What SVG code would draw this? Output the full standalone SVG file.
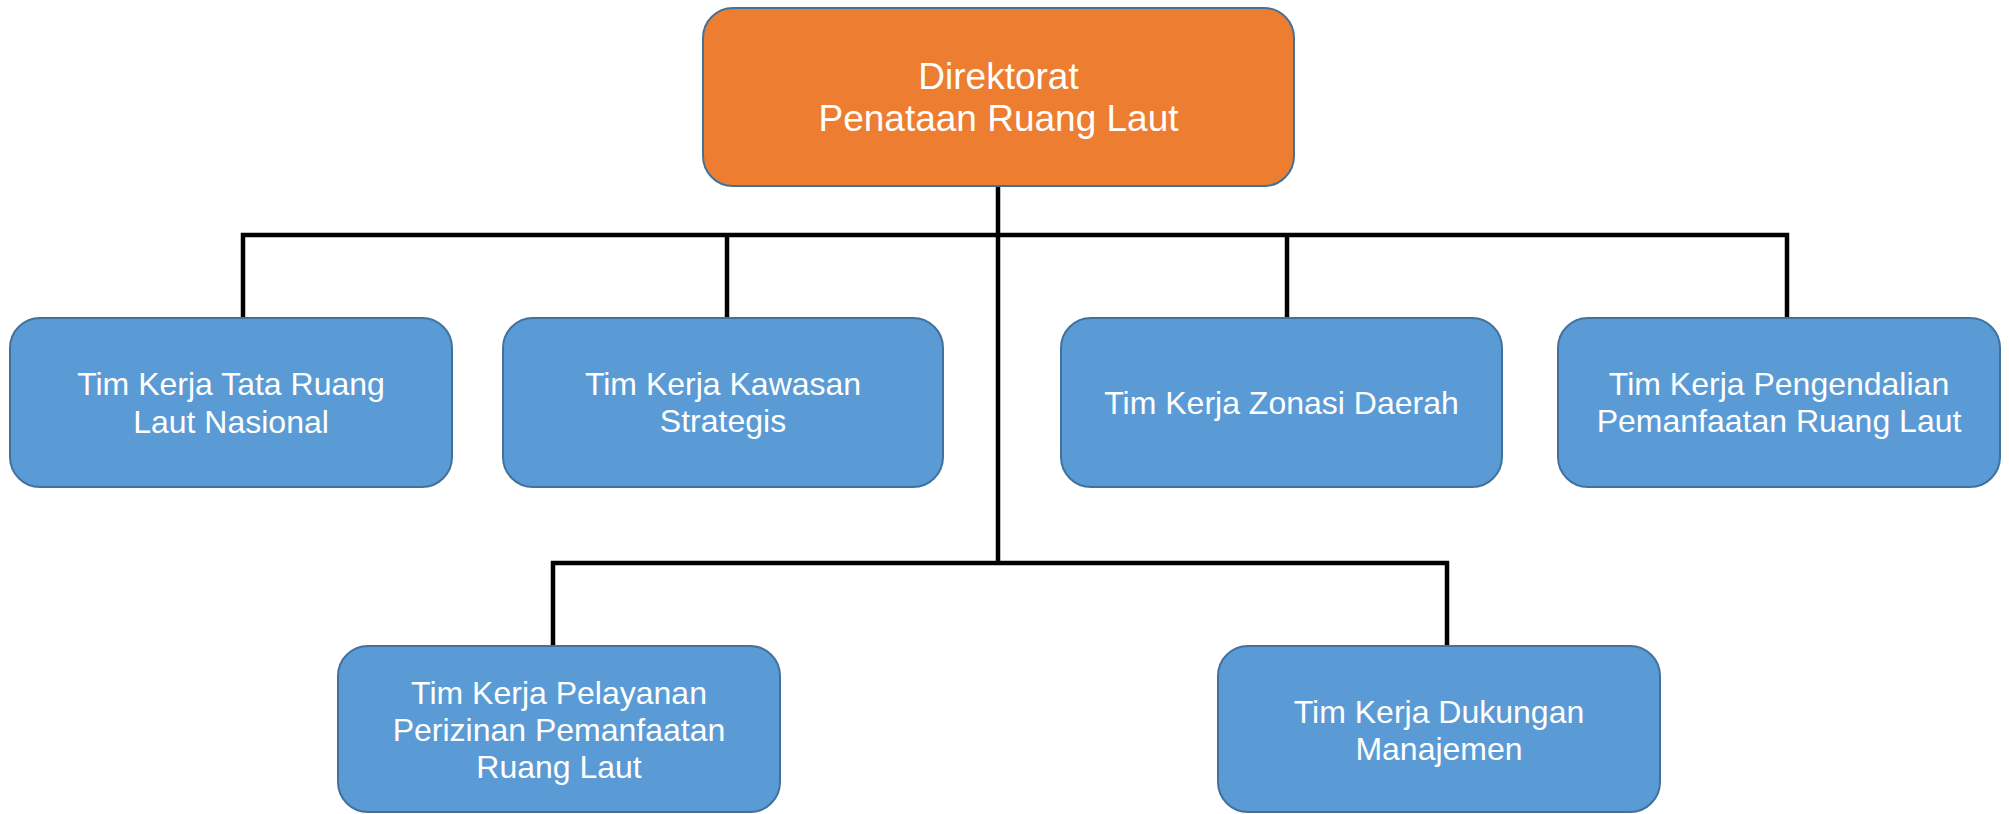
<svg xmlns="http://www.w3.org/2000/svg" width="2009" height="814" viewBox="0 0 2009 814">
<style>
.box{fill:#5B9BD5;stroke:#41719C;stroke-width:2}
.top{fill:#ED7D31;stroke:#41719C;stroke-width:2}
.t{font-family:"Liberation Sans",Arial,sans-serif;font-size:32px;fill:#fff;text-anchor:middle}
.tt{font-family:"Liberation Sans",Arial,sans-serif;font-size:37px;fill:#fff;text-anchor:middle}
.c{stroke:#000;stroke-width:4.5;fill:none}
</style>
<rect width="2009" height="814" fill="#fff"/>
<g id="connectors">
<line class="c" x1="998" y1="186" x2="998" y2="565"/>
<polyline class="c" points="243,318 243,235 1787,235 1787,318"/>
<line class="c" x1="727" y1="235" x2="727" y2="318"/>
<line class="c" x1="1287" y1="235" x2="1287" y2="318"/>
<polyline class="c" points="553,646 553,563 1447,563 1447,646"/>
</g>
<g id="direktorat">
<rect class="top" x="703" y="8" width="591" height="178" rx="30"/>
<text class="tt" x="998.5" y="89">Direktorat</text>
<text class="tt" x="998.5" y="131">Penataan Ruang Laut</text>
</g>
<g id="tk-tata-ruang">
<rect class="box" x="10" y="318" width="442" height="169" rx="30"/>
<text class="t" x="231" y="395">Tim Kerja Tata Ruang</text>
<text class="t" x="231" y="433">Laut Nasional</text>
</g>
<g id="tk-kawasan">
<rect class="box" x="503" y="318" width="440" height="169" rx="30"/>
<text class="t" x="723" y="395">Tim Kerja Kawasan</text>
<text class="t" x="723" y="432">Strategis</text>
</g>
<g id="tk-zonasi">
<rect class="box" x="1061" y="318" width="441" height="169" rx="30"/>
<text class="t" x="1281.5" y="414">Tim Kerja Zonasi Daerah</text>
</g>
<g id="tk-pengendalian">
<rect class="box" x="1558" y="318" width="442" height="169" rx="30"/>
<text class="t" x="1779" y="395">Tim Kerja Pengendalian</text>
<text class="t" x="1779" y="432">Pemanfaatan Ruang Laut</text>
</g>
<g id="tk-pelayanan">
<rect class="box" x="338" y="646" width="442" height="166" rx="30"/>
<text class="t" x="559" y="704">Tim Kerja Pelayanan</text>
<text class="t" x="559" y="741">Perizinan Pemanfaatan</text>
<text class="t" x="559" y="778">Ruang Laut</text>
</g>
<g id="tk-dukungan">
<rect class="box" x="1218" y="646" width="442" height="166" rx="30"/>
<text class="t" x="1439" y="723">Tim Kerja Dukungan</text>
<text class="t" x="1439" y="760">Manajemen</text>
</g>
</svg>
